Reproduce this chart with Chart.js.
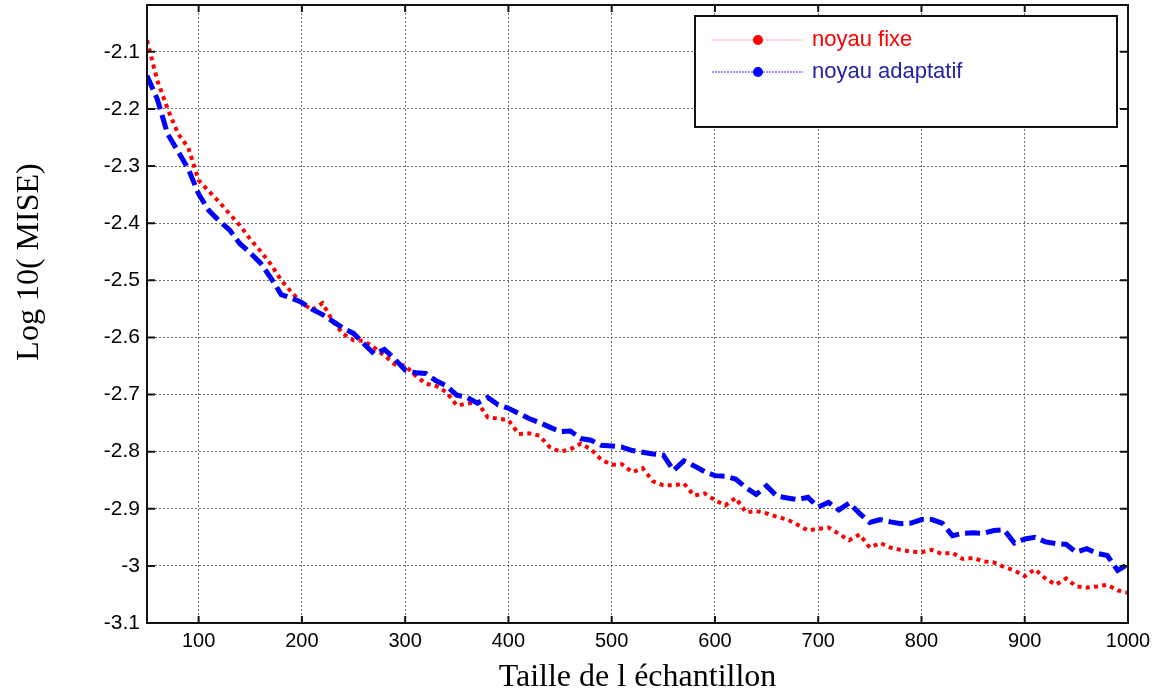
<!DOCTYPE html>
<html>
<head>
<meta charset="utf-8">
<title>MISE</title>
<script src="https://cdn.jsdelivr.net/npm/chart.js@4.4.0/dist/chart.umd.min.js"></script>
<style>
  html, body { margin: 0; padding: 0; background: #fff; }
  #wrap { width: 1154px; height: 698px; }
</style>
</head>
<body>
<div id="wrap"><canvas id="miseChart" width="1154" height="698"></canvas></div>
<script>
// taille de l'echantillon (axe x)
const sampleSizes = [
  50, 60, 70, 80, 90, 100, 110, 120, 130, 140,
  150, 160, 170, 180, 190, 200, 210, 220, 230, 240,
  250, 260, 270, 280, 290, 300, 310, 320, 330, 340,
  350, 360, 370, 380, 390, 400, 410, 420, 430, 440,
  450, 460, 470, 480, 490, 500, 510, 520, 530, 540,
  550, 560, 570, 580, 590, 600, 610, 620, 630, 640,
  650, 660, 670, 680, 690, 700, 710, 720, 730, 740,
  750, 760, 770, 780, 790, 800, 810, 820, 830, 840,
  850, 860, 870, 880, 890, 900, 910, 920, 930, 940,
  950, 960, 970, 980, 990, 1000
];

// log10(MISE), noyau fixe
const miseFixe = [
  -2.080, -2.150, -2.200, -2.243, -2.268, -2.325, -2.344, -2.363, -2.384, -2.404,
  -2.428, -2.449, -2.472, -2.500, -2.521, -2.540, -2.552, -2.540, -2.572, -2.594,
  -2.605, -2.606, -2.618, -2.632, -2.647, -2.649, -2.667, -2.681, -2.685, -2.696,
  -2.719, -2.716, -2.713, -2.740, -2.742, -2.745, -2.769, -2.768, -2.772, -2.792,
  -2.800, -2.796, -2.786, -2.796, -2.814, -2.823, -2.822, -2.836, -2.829, -2.852,
  -2.859, -2.859, -2.856, -2.877, -2.873, -2.885, -2.894, -2.881, -2.906, -2.904,
  -2.908, -2.914, -2.919, -2.928, -2.938, -2.935, -2.933, -2.944, -2.955, -2.945,
  -2.968, -2.960, -2.968, -2.972, -2.975, -2.976, -2.972, -2.979, -2.977, -2.988,
  -2.986, -2.992, -2.994, -3.002, -3.008, -3.018, -3.006, -3.022, -3.033, -3.022,
  -3.036, -3.038, -3.036, -3.033, -3.043, -3.047
];

// log10(MISE), noyau adaptatif
const miseAdapt = [
  -2.142, -2.183, -2.244, -2.274, -2.305, -2.349, -2.378, -2.396, -2.412, -2.436,
  -2.452, -2.470, -2.496, -2.525, -2.531, -2.539, -2.551, -2.560, -2.572, -2.584,
  -2.593, -2.611, -2.629, -2.621, -2.638, -2.657, -2.662, -2.663, -2.676, -2.685,
  -2.701, -2.705, -2.715, -2.705, -2.718, -2.724, -2.733, -2.742, -2.749, -2.757,
  -2.765, -2.764, -2.777, -2.780, -2.789, -2.790, -2.792, -2.798, -2.801, -2.804,
  -2.806, -2.833, -2.816, -2.825, -2.835, -2.842, -2.843, -2.848, -2.863, -2.875,
  -2.860, -2.878, -2.881, -2.884, -2.880, -2.897, -2.889, -2.902, -2.890, -2.908,
  -2.924, -2.919, -2.923, -2.926, -2.925, -2.919, -2.919, -2.925, -2.947, -2.943,
  -2.942, -2.943, -2.938, -2.937, -2.960, -2.953, -2.950, -2.958, -2.961, -2.962,
  -2.976, -2.970, -2.978, -2.982, -3.008, -2.997
];

const xTicks = [100, 200, 300, 400, 500, 600, 700, 800, 900, 1000];
const yTicks = [-3.1, -3.0, -2.9, -2.8, -2.7, -2.6, -2.5, -2.4, -2.3, -2.2, -2.1];

const seriesNames = ["noyau fixe", "noyau adaptatif"];
const yTitle = "Log 10( MISE)";
const xTitle = "Taille de l échantillon";

const serif = "'Liberation Serif', 'Times New Roman', serif";

function toPoints(ys) {
  return sampleSizes.map((x, i) => ({ x: x, y: ys[i] }));
}

// cadre noir + petites graduations vers l'interieur + titre y
const framePlugin = {
  id: "frame",
  afterDatasetsDraw(chart) {
    const { ctx, chartArea: a, scales } = chart;
    ctx.save();
    ctx.strokeStyle = "#111";
    ctx.lineWidth = 2;
    ctx.strokeRect(a.left, a.top, a.right - a.left, a.bottom - a.top);
    ctx.beginPath();
    xTicks.forEach(v => {
      const px = scales.x.getPixelForValue(v);
      ctx.moveTo(px, a.bottom); ctx.lineTo(px, a.bottom - 7);
      ctx.moveTo(px, a.top); ctx.lineTo(px, a.top + 7);
    });
    yTicks.forEach(v => {
      const py = scales.y.getPixelForValue(v);
      ctx.moveTo(a.left, py); ctx.lineTo(a.left + 8, py);
      ctx.moveTo(a.right, py); ctx.lineTo(a.right - 8, py);
    });
    ctx.stroke();

    // titre de l'axe y, un peu au-dessus du milieu comme sur l'original
    ctx.translate(30, a.top + 257);
    ctx.rotate(-Math.PI / 2);
    ctx.fillStyle = "#000";
    ctx.font = "32px " + serif;
    ctx.textAlign = "center";
    ctx.textBaseline = "middle";
    ctx.fillText(yTitle, 0, 0);
    ctx.restore();
  }
};

// legende encadree en haut a droite, style matlab
const boxLegendPlugin = {
  id: "boxLegend",
  afterDraw(chart) {
    const { ctx, chartArea: a } = chart;
    const left = a.right - 433, top = a.top + 11, w = 422, h = 111;
    ctx.save();
    ctx.fillStyle = "#fff";
    ctx.fillRect(left, top, w, h);
    ctx.strokeStyle = "#111";
    ctx.lineWidth = 2;
    ctx.strokeRect(left, top, w, h);
    chart.data.datasets.forEach((ds, i) => {
      const yy = top + 24 + i * 32;
      ctx.strokeStyle = ds.legendLine;
      ctx.lineWidth = 1;
      ctx.setLineDash([2, 1]);
      ctx.beginPath();
      ctx.moveTo(left + 17, yy);
      ctx.lineTo(left + 108, yy);
      ctx.stroke();
      ctx.setLineDash([]);
      ctx.fillStyle = ds.borderColor;
      ctx.beginPath();
      ctx.arc(left + 63, yy, 5, 0, Math.PI * 2);
      ctx.fill();
      ctx.fillStyle = ds.legendText;
      ctx.font = "22px 'Liberation Sans', Arial, sans-serif";
      ctx.textBaseline = "middle";
      ctx.textAlign = "left";
      ctx.fillText(ds.label, left + 117, yy);
    });
    ctx.restore();
  }
};

Chart.defaults.font.family = "'Liberation Sans', Arial, sans-serif";
Chart.defaults.color = "#000";

const ctx = document.getElementById("miseChart").getContext("2d");
new Chart(ctx, {
  type: "line",
  data: {
    datasets: [{
      label: seriesNames[0],
      data: toPoints(miseFixe),
      borderColor: "#ff0000",
      borderWidth: 4,
      borderDash: [4, 4.3],
      pointRadius: 0,
      tension: 0,
      order: 1,
      legendLine: "#ff9a9a",
      legendText: "#ff0000"
    }, {
      label: seriesNames[1],
      data: toPoints(miseAdapt),
      borderColor: "#0000ff",
      borderWidth: 5,
      borderDash: [15, 6],
      pointRadius: 0,
      tension: 0,
      order: 0,
      legendLine: "#3333ff",
      legendText: "#2323a8"
    }]
  },
  options: {
    responsive: false,
    animation: false,
    layout: { padding: { top: 5, right: 26, left: 0, bottom: 0 } },
    plugins: {
      legend: { display: false },
      tooltip: { enabled: false }
    },
    scales: {
      x: {
        type: "linear",
        min: 50,
        max: 1000,
        afterBuildTicks: s => { s.ticks = xTicks.map(v => ({ value: v })); },
        afterFit: s => { s.height = 75; s.paddingLeft = 0; s.paddingRight = 0; },
        grid: { color: "#6f6f6f", lineWidth: 1, drawTicks: false },
        border: { display: false, dash: [2, 2] },
        ticks: { padding: 6, font: { size: 20 }, maxRotation: 0, callback: v => String(v) },
        title: {
          display: true,
          text: xTitle,
          font: { family: serif, size: 32 },
          padding: { top: 0, bottom: 1 }
        }
      },
      y: {
        min: -3.1,
        max: -2.018,
        afterBuildTicks: s => { s.ticks = yTicks.map(v => ({ value: v })); },
        afterFit: s => { s.width = 147; s.paddingTop = 0; s.paddingBottom = 0; },
        grid: { color: "#6f6f6f", lineWidth: 1, drawTicks: false },
        border: { display: false, dash: [2, 2] },
        ticks: {
          padding: 7,
          font: { size: 21 },
          callback: v => String(Number(v.toFixed(1)))
        }
      }
    }
  },
  plugins: [framePlugin, boxLegendPlugin]
});
</script>
</body>
</html>
